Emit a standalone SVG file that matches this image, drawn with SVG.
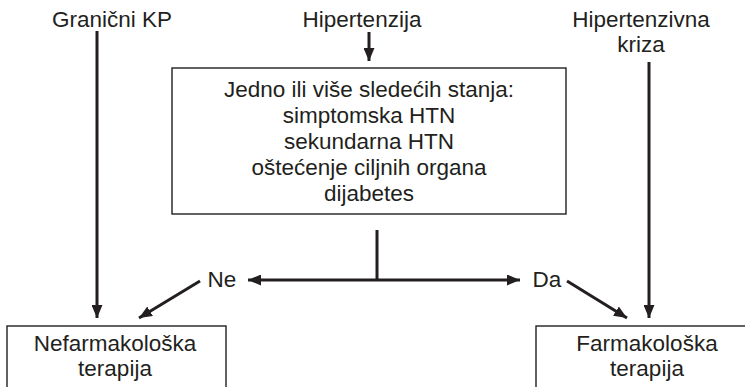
<svg xmlns="http://www.w3.org/2000/svg" width="745" height="387" viewBox="0 0 745 387">
<defs>
<marker id="ah" viewBox="0 0 13 11" refX="13" refY="5.5" markerWidth="13" markerHeight="11" markerUnits="userSpaceOnUse" orient="auto">
<path d="M0,0 L13,5.5 L0,11 Z" fill="#231f20"/>
</marker>
</defs>
<style>
text{font-family:"Liberation Sans",Arial,sans-serif;font-size:22.5px;fill:#231f20;text-anchor:middle}
.box{fill:#fff;stroke:#231f20;stroke-width:1.4}
.c{fill:none;stroke:#231f20;stroke-width:3}
.a{marker-end:url(#ah)}
</style>
<rect width="745" height="387" fill="#fff"/>
<g id="granicni"><text x="112" y="27">Granični KP</text></g>
<g id="hipertenzija"><text x="362" y="27">Hipertenzija</text></g>
<g id="kriza"><text x="641" y="27">Hipertenzivna</text><text x="641" y="52">kriza</text></g>
<g id="stanja">
<rect class="box" x="172" y="68" width="394" height="146"/>
<text x="369" y="97">Jedno ili više sledećih stanja:</text>
<text x="369" y="123">simptomska HTN</text>
<text x="369" y="149">sekundarna HTN</text>
<text x="369" y="175">oštećenje ciljnih organa</text>
<text x="369" y="201">dijabetes</text>
</g>
<g id="ne"><text x="222" y="287">Ne</text></g>
<g id="da"><text x="547" y="287">Da</text></g>
<g id="nefarm">
<rect class="box" x="7" y="326" width="219" height="70"/>
<text x="115" y="351">Nefarmakološka</text>
<text x="115" y="376">terapija</text>
</g>
<g id="farm">
<rect class="box" x="536" y="326" width="220" height="70"/>
<text x="647" y="351">Farmakološka</text>
<text x="647" y="376">terapija</text>
</g>
<g id="connectors">
<line class="c a" x1="97" y1="31" x2="97" y2="318"/>
<line class="c a" x1="369" y1="32" x2="369" y2="61"/>
<line class="c" x1="377" y1="230" x2="377" y2="281"/>
<line class="c a" x1="377" y1="280" x2="248" y2="280"/>
<line class="c a" x1="377" y1="280" x2="520" y2="280"/>
<line class="c a" x1="200" y1="281" x2="139" y2="318"/>
<line class="c a" x1="567" y1="281" x2="627" y2="318"/>
<line class="c a" x1="649" y1="62" x2="649" y2="318"/>
</g>
</svg>
